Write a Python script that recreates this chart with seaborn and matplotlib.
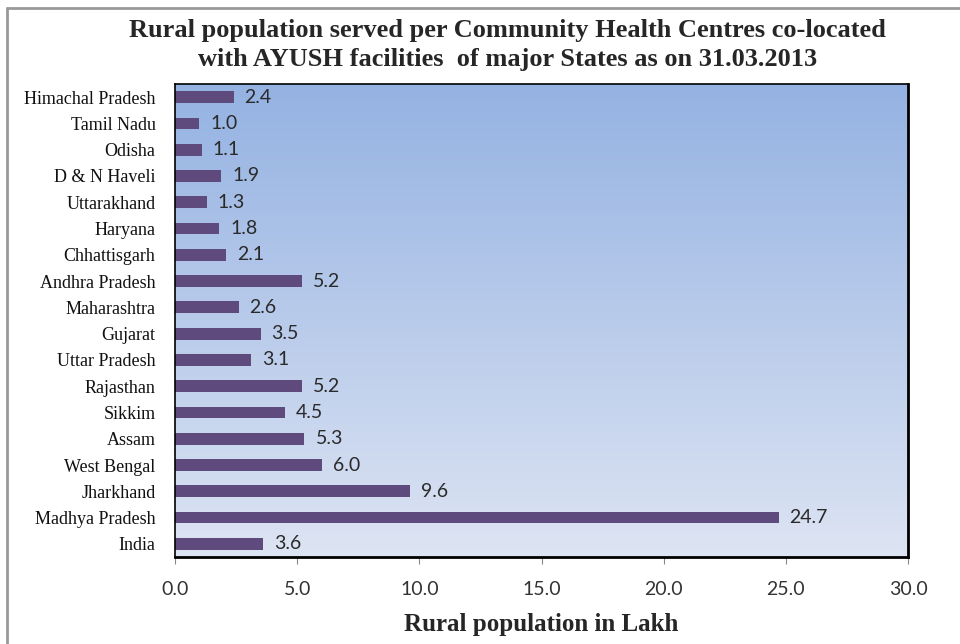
import numpy as np
import pandas as pd
import matplotlib.pyplot as plt
import seaborn as sns

# Chart data
states = ["Himachal Pradesh", "Tamil Nadu", "Odisha", "D & N Haveli", "Uttarakhand",
          "Haryana", "Chhattisgarh", "Andhra Pradesh", "Maharashtra", "Gujarat",
          "Uttar Pradesh", "Rajasthan", "Sikkim", "Assam", "West Bengal",
          "Jharkhand", "Madhya Pradesh", "India"]
population = [2.4, 1.0, 1.1, 1.9, 1.3, 1.8, 2.1, 5.2, 2.6, 3.5,
              3.1, 5.2, 4.5, 5.3, 6.0, 9.6, 24.7, 3.6]
x_ticks = [0, 5, 10, 15, 20, 25, 30]

sns.set_style("white")
plt.rcParams['font.family'] = ['Liberation Serif', 'DejaVu Serif']
sans = ["Lato", "DejaVu Sans"]

df = pd.DataFrame({"state": states, "value": population})

fig = plt.figure(figsize=(9.6, 6.44), dpi=100)
ax = fig.add_axes([175 / 960, 1 - 557 / 644, (908 - 175) / 960, (557 - 84) / 644])

# gradient background in the plot area
grad = np.linspace(0, 1, 256).reshape(-1, 1)
top = np.array([0x94, 0xb2, 0xe2]) / 255
bottom = np.array([0xdd, 0xe4, 0xf3]) / 255
img = top + (bottom - top) * grad[:, :, None]
ax.imshow(img, extent=[0, 1, 0, 1], transform=ax.transAxes, aspect='auto', zorder=0)

sns.barplot(data=df, x="value", y="state", order=states, color="#5e4a7d",
            saturation=1, width=0.45, linewidth=0, ax=ax, zorder=2)

for i, v in enumerate(population):
    ax.text(v + 0.45, i, f"{v:.1f}", va="center", ha="left",
            fontsize=14, family=sans, color="#2a2a2a", zorder=3)

ax.set_xlim(0, 30)
ax.set_ylim(len(states) - 0.5, -0.5)
ax.set_xticks(x_ticks)
ax.set_xticklabels([f"{t:.1f}" for t in x_ticks], family=sans,
                   fontsize=14, color="#333333")
ax.set_yticks(np.arange(len(states) + 1) - 0.5, minor=True)
ax.set_yticks(range(len(states)))
ax.set_yticklabels(states, fontsize=13, color="#111111")
ax.tick_params(axis="y", which="major", length=0, pad=14)
ax.tick_params(axis="y", which="minor", length=5, color="#888888", direction="out")
ax.tick_params(axis="x", length=5, color="#888888", direction="out", pad=12, bottom=True)
ax.set_ylabel("")
ax.set_xlabel("Rural population in Lakh", fontsize=18, fontweight="bold", labelpad=11)

for side in ["top", "left"]:
    ax.spines[side].set_color("black")
    ax.spines[side].set_linewidth(1.2)
for side in ["right", "bottom"]:
    ax.spines[side].set_color("black")
    ax.spines[side].set_linewidth(2)

fig.suptitle("Rural population served per Community Health Centres co-located\n"
             "with AYUSH facilities  of major States as on 31.03.2013",
             fontsize=19, fontweight="bold", y=0.97, x=0.529, linespacing=1.3)

# outer frame visible at top and left of the cropped chart
fig.add_artist(plt.Line2D([7 / 960, 7 / 960], [0, 1 - 8 / 644], color="#999999", lw=2))
fig.add_artist(plt.Line2D([7 / 960, 1], [1 - 8 / 644, 1 - 8 / 644], color="#999999", lw=2))

fig.savefig("out.png", dpi=100)
